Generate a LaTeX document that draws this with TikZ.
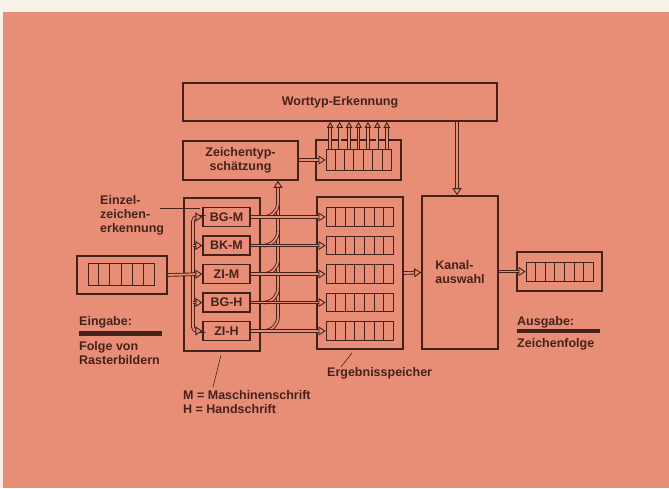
\documentclass[tikz,border=0pt]{standalone}
\usepackage{fontspec}
\setmainfont{Liberation Sans}
\usetikzlibrary{calc,arrows.meta}
\definecolor{paper}{RGB}{233,142,118}
\definecolor{sheet}{RGB}{248,243,232}
\definecolor{ink}{RGB}{68,34,28}

\tikzset{
  box/.style={draw=ink, line width=1.6pt, inner sep=0pt},
  regcells/.style={draw=ink, line width=0.9pt, inner sep=0pt},
  pipe/.style={draw=ink, line width=0.9pt, double=paper, double distance=1.8pt},
  tip/.style={-{Triangle[open, length=7pt, width=9pt, fill=paper]}},
  smalltip/.style={-{Triangle[open, length=6pt, width=6.5pt, fill=paper]}},
  lbl/.style={font=\bfseries\fontsize{12.5}{14}\selectfont, text=ink, align=left, inner sep=0pt},
  leader/.style={draw=ink, line width=0.6pt},
}

% register of #5+1 cells: name, centre, width, height, dividers
\newcommand\register[5]{%
  \node[regcells, minimum width=#3, minimum height=#4] (#1) at #2 {};
  \foreach \k in {1,...,#5}
    \draw[ink, line width=0.9pt] ($(#1.south west)!{\k/(#5+1)}!(#1.south east)$)
      -- ($(#1.north west)!{\k/(#5+1)}!(#1.north east)$);
}

\begin{document}
\begin{tikzpicture}[x=1pt, y=-1pt]
  \fill[sheet] (0,0) rectangle (669,488);
  \fill[paper] (3,12) rectangle (669,488);
  \useasboundingbox (0,0) rectangle (669,488);

  % boxes
  \node[box, minimum width=314pt, minimum height=38pt] (wort) at (340,102) {};
  \node[lbl] at (wort) {Worttyp-Erkennung};
  \node[box, minimum width=115pt, minimum height=39pt, lbl, align=center] (zts) at (240.5,160.5) {Zeichentyp-\\schätzung};
  \node[box, minimum width=85pt, minimum height=40pt] (regt) at (358.5,160) {};
  \register{regtc}{(358.5,160)}{65pt}{21pt}{6}

  \node[box, minimum width=90pt, minimum height=38pt] (in) at (122,275) {};
  \register{inc}{(121,274)}{66pt}{22pt}{5}

  \node[box, minimum width=76pt, minimum height=153pt] (ez) at (222,274.5) {};
  \node[box, minimum width=86pt, minimum height=152pt] (erg) at (360,273) {};
  \node[box, minimum width=76pt, minimum height=153pt, lbl] (kanal) at (460,272.5) {Kanal-\\auswahl};
  \node[box, minimum width=85pt, minimum height=39pt] (out) at (559.5,271.5) {};
  \register{outc}{(559.5,271.5)}{67pt}{19pt}{6}

  \foreach \name/\y in {BG-M/217, BK-M/245.5, ZI-M/274, BG-H/302.5, ZI-H/331} {
    \node[box, line width=1.2pt, minimum width=47pt, minimum height=19pt, lbl] (\name) at (226.5,\y) {\name};
    \register{r\name}{(359.5,\y)}{67pt}{18.5pt}{6}
  }

  % input bus
  \coordinate (split) at (193,274);
  \draw[pipe, tip, rounded corners=4pt] (split) |- (BG-M.west);
  \draw[pipe, tip, rounded corners=4pt] (split) |- (ZI-H.west);
  \draw[pipe, tip] (split |- BK-M.west) -- (BK-M.west);
  \draw[pipe, tip] (split |- BG-H.west) -- (BG-H.west);
  \draw[pipe, tip] (in.east) -- (ZI-M.west);

  % taps up to Zeichentypschaetzung
  \coordinate (tap) at (278,0);
  \draw[pipe, tip] (tap |- ZI-H.east) ++(0,-14) -- (tap |- zts.south);
  \foreach \name in {BG-M, BK-M, ZI-M, BG-H, ZI-H}
    \draw[pipe] ($(\name.east)+(13,0)$) to[out=0, in=-90] ($(tap |- \name.east)+(0,-14)$);

  % channels into Ergebnisspeicher
  \foreach \name in {BG-M, BK-M, ZI-M, BG-H, ZI-H}
    \draw[pipe, tip] (\name.east) -- (r\name.west);

  % word type estimation
  \draw[pipe, tip] (zts.east |- regtc.west) -- (regtc.west);
  \foreach \k in {1,...,7} {
    \coordinate (c\k) at ($(regtc.north west)!{(\k-0.5)/7}!(regtc.north east)$);
    \draw[pipe, smalltip] (c\k) -- (c\k |- wort.south);
  }
  \coordinate (kin) at (457,0);
  \draw[pipe, tip] (wort.south -| kin) -- (kanal.north -| kin);

  % output
  \draw[pipe, tip] (erg.east) -- (kanal.west);
  \draw[pipe, tip] (kanal.east |- outc.west) -- (outc.west);

  % labels
  \node[lbl, anchor=north west] (lez) at (100,195) {Einzel-\\zeichen-\\erkennung};
  \draw[leader] (160,208) -- (200,208);

  \node[lbl, anchor=base west] (ein) at (79,325) {Eingabe:};
  \fill[ink] (79,331) rectangle (162,335.5);
  \node[lbl, anchor=north west] (folge) at (79,341) {Folge von\\Rasterbildern};

  \node[lbl, anchor=base west] (aus) at (517,325) {Ausgabe:};
  \fill[ink] (517,328.5) rectangle (600,333);
  \node[lbl, anchor=base west] (zf) at (517,347) {Zeichenfolge};

  \node[lbl, anchor=base west] (lerg) at (327,376) {Ergebnisspeicher};
  \draw[leader] (352,353) -- (341,367);

  \node[lbl, anchor=north west] (legend) at (183,390) {M = Maschinenschrift\\H = Handschrift};
  \draw[leader] (221,355) -- (213,387);
\end{tikzpicture}
\end{document}
